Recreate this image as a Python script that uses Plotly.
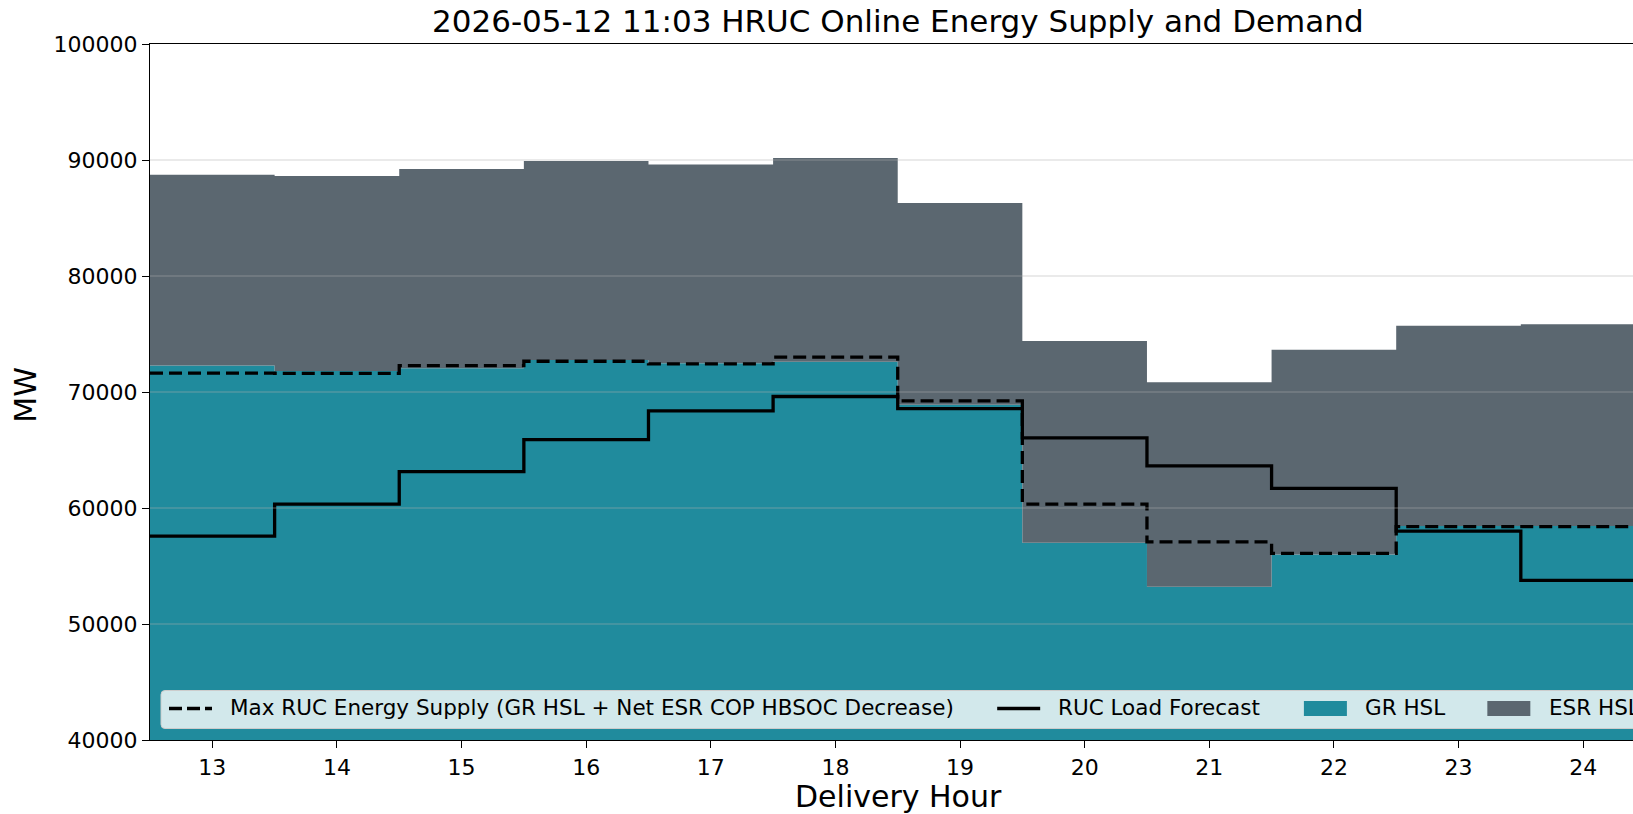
import plotly.graph_objects as go

# Hourly RUC energy supply/demand, MW
hours = [13, 14, 15, 16, 17, 18, 19, 20, 21, 22, 23, 24]
gr_hsl = [72280, 71800, 72050, 72750, 72480, 72600, 68900, 57000, 53220, 56000, 58450, 58450]
esr_hsl = [16450, 16820, 17170, 17160, 17140, 17570, 17390, 17390, 17630, 17640, 17260, 17400]
max_supply = [71620, 71600, 72280, 72650, 72420, 73000, 69240, 60340, 57080, 56090, 58400, 58400]
load_forecast = [57570, 60330, 63140, 65900, 68370, 69610, 68560, 66050, 63630, 61690, 58000, 53760]
y_ticks = [40000, 50000, 60000, 70000, 80000, 90000, 100000]

TITLE = "2026-05-12 11:03 HRUC Online Energy Supply and Demand"
LEG_MAX = "Max RUC Energy Supply (GR HSL + Net ESR COP HBSOC Decrease)"
LEG_LOAD = "RUC Load Forecast"
LEG_GR = "GR HSL"
LEG_ESR = "ESR HSL"

TEAL = "#208b9d"
SLATE = "#5b6770"
FONT = "DejaVu Sans"

W, H = 1633, 814
PL, PR, PT, PB = 150, 1633, 44, 740
HOUR_PX = 124.62
x_lo = hours[0] - 0.5
x_hi = x_lo + (PR - PL) / HOUR_PX


def step_xy(vals):
    """Edges of hourly blocks for a post-step ('hv') outline."""
    xs = [h - 0.5 for h in hours] + [hours[-1] + 0.5]
    ys = list(vals) + [vals[-1]]
    return xs, ys


def px_x(p):
    return (p - PL) / (PR - PL)


def px_y(p):
    return (PB - p) / (PB - PT)


total_hsl = [g + e for g, e in zip(gr_hsl, esr_hsl)]

fig = go.Figure()

xs, ys = step_xy(gr_hsl)
fig.add_trace(go.Scatter(x=xs, y=ys, mode="lines", line=dict(shape="hv", width=0, color=TEAL),
                         fill="tozeroy", fillcolor=TEAL, name=LEG_GR, showlegend=False))
xs, ys = step_xy(total_hsl)
fig.add_trace(go.Scatter(x=xs, y=ys, mode="lines", line=dict(shape="hv", width=0, color=SLATE),
                         fill="tonexty", fillcolor=SLATE, name=LEG_ESR, showlegend=False))
xs, ys = step_xy(max_supply)
fig.add_trace(go.Scatter(x=xs, y=ys, mode="lines",
                         line=dict(shape="hv", width=3.3, color="black", dash="13px,6px"),
                         name=LEG_MAX, showlegend=False))
xs, ys = step_xy(load_forecast)
fig.add_trace(go.Scatter(x=xs, y=ys, mode="lines",
                         line=dict(shape="hv", width=3.3, color="black"),
                         name=LEG_LOAD, showlegend=False))

shapes = []
# horizontal grid drawn over the filled areas
for t in y_ticks[1:-1]:
    shapes.append(dict(type="line", xref="paper", yref="y", x0=0, x1=1, y0=t, y1=t,
                       line=dict(color="rgba(176,176,176,0.35)", width=1.3), layer="above"))

# legend frame (rounded, semi-transparent white)
lx0, lx1, ly0, ly1, r = 161, 1720, 690.5, 728.5, 4
path = (f"M {px_x(lx0 + r)},{px_y(ly0)} L {px_x(lx1)},{px_y(ly0)} L {px_x(lx1)},{px_y(ly1)} "
        f"L {px_x(lx0 + r)},{px_y(ly1)} Q {px_x(lx0)},{px_y(ly1)} {px_x(lx0)},{px_y(ly1 - r)} "
        f"L {px_x(lx0)},{px_y(ly0 + r)} Q {px_x(lx0)},{px_y(ly0)} {px_x(lx0 + r)},{px_y(ly0)} Z")
shapes.append(dict(type="path", xref="paper", yref="paper", path=path,
                   fillcolor="rgba(255,255,255,0.8)", line=dict(color="#cccccc", width=1), layer="above"))

LFS = 21.5
em = LFS
leg_y = 708.5
handle = 2.0 * em
pad = 0.8 * em
colsp = 2.0 * em
x = 169.0
annotations = []
entries = [(LEG_MAX, "dash", 33.72), (LEG_LOAD, "solid", 9.466), (LEG_GR, TEAL, 3.732), (LEG_ESR, SLATE, 4.224)]
for label, kind, width_em in entries:
    if kind in ("dash", "solid"):
        shapes.append(dict(type="line", xref="paper", yref="paper",
                           x0=px_x(x), x1=px_x(x + handle), y0=px_y(leg_y), y1=px_y(leg_y),
                           line=dict(color="black", width=3.3, dash="13px,5px" if kind == "dash" else "solid"),
                           layer="above"))
    else:
        shapes.append(dict(type="rect", xref="paper", yref="paper",
                           x0=px_x(x), x1=px_x(x + handle), y0=px_y(leg_y - 7.5), y1=px_y(leg_y + 7.5),
                           fillcolor=kind, line=dict(width=0), layer="above"))
    tx = x + handle + pad
    annotations.append(dict(text=label, xref="paper", yref="paper", x=px_x(tx), y=px_y(707.6),
                            xanchor="left", yanchor="middle", showarrow=False, borderpad=0,
                            font=dict(family=FONT, size=LFS, color="black")))
    x = tx + width_em * em + colsp

# title and axis labels
annotations.append(dict(text=TITLE, xref="paper", yref="paper", x=px_x(898), y=px_y(21.5),
                        xanchor="center", yanchor="middle", showarrow=False, borderpad=0,
                        font=dict(family=FONT, size=31, color="black")))
annotations.append(dict(text="Delivery Hour", xref="paper", yref="paper", x=px_x(898), y=px_y(796),
                        xanchor="center", yanchor="middle", showarrow=False, borderpad=0,
                        font=dict(family=FONT, size=30, color="black")))
annotations.append(dict(text="MW", xref="paper", yref="paper", x=px_x(24.7), y=px_y(395),
                        xanchor="center", yanchor="middle", showarrow=False, borderpad=0, textangle=-90,
                        font=dict(family=FONT, size=30, color="black")))

fig.update_layout(
    width=W, height=H,
    margin=dict(l=PL, r=W - PR, t=PT, b=H - PB, pad=0),
    plot_bgcolor="white", paper_bgcolor="white",
    showlegend=False,
    shapes=shapes, annotations=annotations,
    font=dict(family=FONT, color="black"),
)
fig.update_xaxes(range=[x_lo, x_hi], tickvals=hours, ticktext=[str(h) for h in hours],
                 ticks="outside", ticklen=7, tickwidth=1.2, tickcolor="black",
                 showline=True, linecolor="black", linewidth=1.2, mirror=True,
                 showgrid=False, zeroline=False, tickfont=dict(family=FONT, size=22, color="black"))
fig.update_yaxes(range=[y_ticks[0], y_ticks[-1]], tickvals=y_ticks, ticktext=[str(t) for t in y_ticks],
                 ticks="outside", ticklen=7, tickwidth=1.2, tickcolor="black",
                 showline=True, linecolor="black", linewidth=1.2,
                 showgrid=False, zeroline=False, tickfont=dict(family=FONT, size=22, color="black"))

fig.write_html("out.html")
